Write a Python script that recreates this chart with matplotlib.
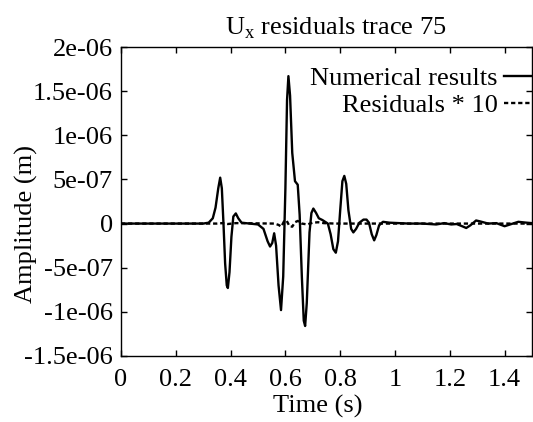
import matplotlib
matplotlib.use('Agg')
import matplotlib.pyplot as plt
import numpy as np

# time (s) and amplitude (units of 1e-7 m)
t_num = [0.0, 0.30, 0.32, 0.335, 0.345, 0.355, 0.362, 0.368, 0.374, 0.380,
         0.386, 0.390, 0.396, 0.403, 0.410, 0.419, 0.428, 0.44, 0.47, 0.50,
         0.52, 0.535, 0.544, 0.552, 0.559, 0.566, 0.575, 0.584, 0.592, 0.600,
         0.606, 0.611, 0.617, 0.625, 0.635, 0.645, 0.652, 0.660, 0.667, 0.672,
         0.678, 0.688, 0.695, 0.702, 0.712, 0.722, 0.735, 0.755, 0.765, 0.775,
         0.784, 0.792, 0.800, 0.808, 0.815, 0.822, 0.830, 0.840, 0.848, 0.858,
         0.870, 0.885, 0.896, 0.905, 0.915, 0.924, 0.932, 0.942, 0.956, 0.98,
         1.05, 1.10, 1.15, 1.18, 1.205, 1.225, 1.245, 1.26, 1.275, 1.296,
         1.31, 1.34, 1.37, 1.40, 1.42, 1.45, 1.48, 1.5]
y_num = [0.0, 0.0, 0.1, 0.6, 1.8, 4.0, 5.2, 4.0, 0.0, -4.5,
         -7.0, -7.3, -5.5, -1.5, 0.8, 1.15, 0.6, 0.1, 0.0, -0.1,
         -0.6, -2.0, -2.6, -2.2, -1.1, -2.5, -7.0, -9.8, -6.0, 4.0,
         14.0, 16.7, 14.5, 8.0, 4.8, 4.4, 1.0, -6.0, -11.0, -11.6,
         -9.0, -1.0, 1.2, 1.7, 1.2, 0.6, 0.4, 0.0, -1.2, -2.9,
         -3.3, -2.0, 1.5, 4.8, 5.4, 4.5, 1.5, -0.6, -1.0, -0.6,
         0.1, 0.45, 0.45, 0.1, -1.2, -1.9, -1.3, -0.2, 0.2, 0.1,
         0.0, 0.0, -0.1, 0.05, -0.1, -0.05, -0.3, -0.5, -0.2, 0.35,
         0.25, 0.0, 0.05, -0.3, -0.1, 0.2, 0.1, 0.05]

t_res = [0.0, 0.35, 0.37, 0.39, 0.42, 0.56, 0.575, 0.585, 0.595, 0.605,
         0.615, 0.625, 0.635, 0.645, 0.66, 0.68, 0.70, 0.72, 0.74, 0.78, 1.5]
y_res = [0.0, 0.0, 0.05, -0.05, 0.05, 0.0, -0.15, -0.35, 0.25, 0.3,
         -0.3, -0.35, 0.15, 0.3, 0.0, -0.1, 0.1, 0.15, 0.05, 0.0, 0.0]

xticks = [0, 0.2, 0.4, 0.6, 0.8, 1, 1.2, 1.4]
xticklabels = ['0', '0.2', '0.4', '0.6', '0.8', '1', '1.2', '1.4']
yticks = [-1.5e-6, -1e-6, -5e-7, 0, 5e-7, 1e-6, 1.5e-6, 2e-6]
yticklabels = ['-1.5e-06', '-1e-06', '-5e-07', '0', '5e-07', '1e-06', '1.5e-06', '2e-06']

plt.rcParams['font.family'] = ['Liberation Serif', 'DejaVu Serif']
plt.rcParams['mathtext.fontset'] = 'custom'
plt.rcParams['mathtext.rm'] = 'Liberation Serif'
fs = 19

W, H = 533, 422
fig = plt.figure(figsize=(5.33, 4.22), dpi=100)
ax = fig.add_axes([121/W, 1-356/H, 411/W, 309/H])

ax.plot(t_num, np.array(y_num)*1e-7, color='black', lw=1.7, label='Numerical results')
ax.plot(t_res, np.array(y_res)*1e-7, color='black', lw=1.7, dashes=(1.8, 1.2),
        label='Residuals * 10')

ax.set_xlim(0, 1.5)
ax.set_ylim(-1.5e-6, 2e-6)
ax.set_xticks(xticks)
ax.set_xticklabels(xticklabels, fontsize=fs)
ax.set_yticks(yticks)
ax.set_yticklabels(yticklabels, fontsize=fs)
ax.tick_params(axis='both', direction='in', length=4, width=1, top=True, right=True)
ax.tick_params(axis='y', pad=6)
ax.tick_params(axis='x', pad=9)
for s in ax.spines.values():
    s.set_linewidth(1.0)

ax.set_xlabel('Time (s)', fontsize=fs)
ax.xaxis.set_label_coords((318-121)/411, (356-395)/309)
ax.set_ylabel('Amplitude (m)', fontsize=fs)
ax.yaxis.set_label_coords((38-121)/411, (356-224)/309)
ax.set_title('U$_\\mathrm{x}$ residuals trace 75', fontsize=fs,
             x=(336-121)/411, y=1.0, pad=9)

ax.legend(loc='upper right', frameon=False, markerfirst=False, fontsize=fs,
          handlelength=1.05, handletextpad=0.25, labelspacing=0.12,
          borderaxespad=0.0, borderpad=0.0,
          bbox_to_anchor=(1.0, (356-67)/309))

fig.savefig('out.png', dpi=100)
